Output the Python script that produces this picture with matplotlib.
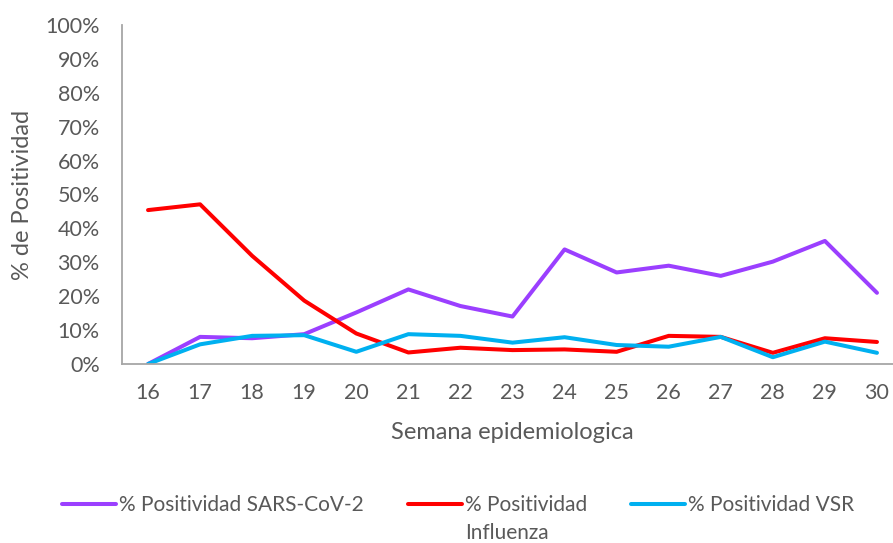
import matplotlib.pyplot as plt
import numpy as np

plt.rcParams['font.family'] = ['Lato', 'DejaVu Sans']

semanas = [16, 17, 18, 19, 20, 21, 22, 23, 24, 25, 26, 27, 28, 29, 30]
sars_cov2 = [0.0, 8.0, 7.6, 8.8, 15.2, 22.0, 17.1, 14.0, 33.8, 27.0, 29.0, 26.0, 30.2, 36.3, 21.0]
influenza = [45.4, 47.1, 31.9, 18.7, 9.0, 3.4, 4.8, 4.1, 4.3, 3.6, 8.3, 8.0, 3.3, 7.6, 6.5]
vsr = [0.0, 5.8, 8.3, 8.5, 3.6, 8.8, 8.3, 6.3, 7.9, 5.6, 5.1, 8.0, 2.0, 6.6, 3.3]

gris = '#595959'

fig = plt.figure(figsize=(8.93, 5.43), dpi=100)
ax = fig.add_axes([122 / 893, (543 - 364) / 543, (903 - 122) / 893, (364 - 25) / 543])

ax.plot(semanas, sars_cov2, color='#9B3FFF', lw=2.9, label='% Positividad SARS-CoV-2', solid_capstyle='round')
ax.plot(semanas, influenza, color='#FF0000', lw=2.9, label='% Positividad', solid_capstyle='round')
ax.plot(semanas, vsr, color='#00B0F0', lw=2.9, label='% Positividad VSR', solid_capstyle='round')

ax.set_xlim(15.5, 30.5)
ax.set_ylim(0, 100)
ax.set_xticks(semanas)
ax.set_yticks(np.arange(0, 101, 10))
ax.set_yticklabels([f'{v}%' for v in range(0, 101, 10)])
ax.tick_params(length=0, labelsize=15.5, colors=gris)
ax.tick_params(axis='y', pad=16)
ax.tick_params(axis='x', pad=14)

for s in ['top', 'right']:
    ax.spines[s].set_visible(False)
for s in ['left', 'bottom']:
    ax.spines[s].set_color('#A6A6A6')
    ax.spines[s].set_linewidth(1.3)

ax.set_xlabel('Semana epidemiologica', fontsize=17, color=gris)
ax.xaxis.set_label_coords((512 - 122) / (903 - 122), -(422 - 364) / 339)
ax.set_ylabel('% de Positividad', fontsize=17, color=gris)
ax.yaxis.set_label_coords(-(122 - 33) / (903 - 122), 0.5)

leg = fig.legend(loc='center', bbox_to_anchor=(458 / 893, 1 - 505 / 543), ncol=3,
                 frameon=False, fontsize=15, handlelength=2.6, columnspacing=2.1,
                 handletextpad=0.15, labelcolor=gris)

# segunda linea de la etiqueta de influenza
fig.canvas.draw()
t = leg.get_texts()[1]
bb = t.get_window_extent()
fig.text(bb.x0 / 893, (bb.y0 + bb.y1) / 2 / 543 - 28 / 543, 'Influenza',
         fontsize=15, color=gris, ha='left', va='center')

fig.savefig('out.png', dpi=100)
